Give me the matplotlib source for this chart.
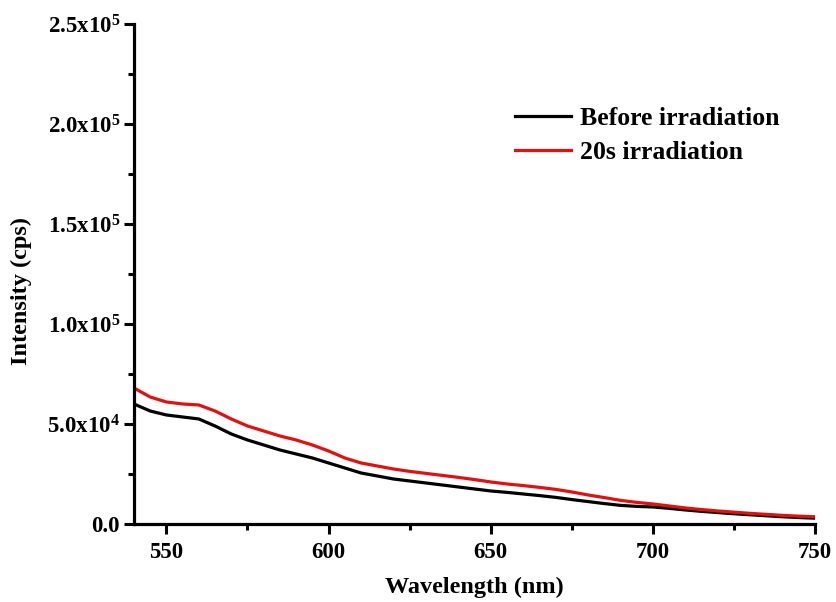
import matplotlib
matplotlib.use("Agg")
import matplotlib.pyplot as plt
from matplotlib.ticker import AutoMinorLocator

plt.rcParams['font.family'] = 'Liberation Serif'
plt.rcParams['font.weight'] = 'bold'
plt.rcParams['mathtext.fontset'] = 'custom'
plt.rcParams['mathtext.rm'] = 'Liberation Serif:bold'
plt.rcParams['mathtext.default'] = 'rm'

wavelength = [540, 545, 550, 555, 560, 565, 570, 575, 580, 585, 590, 595,
              600, 605, 610, 615, 620, 625, 630, 635, 640, 645, 650, 655,
              660, 665, 670, 675, 680, 685, 690, 695, 700, 705, 710, 715,
              720, 725, 730, 735, 740, 745, 750]

before = [60000, 56500, 54500, 53500, 52500, 49000, 45000, 42000, 39500, 37000,
          35000, 33000, 30500, 28000, 25500, 24000, 22500, 21500, 20500, 19500,
          18500, 17500, 16500, 15800, 15000, 14200, 13300, 12200, 11200, 10200,
          9300, 8800, 8500, 7800, 7000, 6300, 5700, 5100, 4600, 4100, 3600,
          3200, 2900]

irr20s = [68000, 63500, 61000, 60000, 59500, 56500, 52500, 49000, 46500, 44000,
          42000, 39500, 36500, 33000, 30500, 29000, 27500, 26300, 25300, 24300,
          23300, 22200, 21000, 20000, 19200, 18300, 17300, 16000, 14500, 13200,
          11800, 10800, 10000, 9000, 8000, 7200, 6500, 5900, 5300, 4800, 4300,
          3900, 3600]

ytick_vals = [0, 50000, 100000, 150000, 200000, 250000]
ytick_labels = ["0.0", "5.0x10$^4$", "1.0x10$^5$", "1.5x10$^5$",
                "2.0x10$^5$", "2.5x10$^5$"]
xtick_vals = [550, 600, 650, 700, 750]

fig = plt.figure(figsize=(8.37, 6.02), dpi=100)
ax = fig.add_axes([0.160, 0.1296, 0.814, 0.8306])

ax.plot(wavelength, before, color='black', lw=2.3, label='Before irradiation')
ax.plot(wavelength, irr20s, color='#e31010', lw=2.3, label='20s irradiation')

ax.set_xlim(540, 750)
ax.set_ylim(0, 250000)
ax.set_xticks(xtick_vals)
ax.set_yticks(ytick_vals)
ax.set_yticklabels(ytick_labels)
ax.xaxis.set_minor_locator(AutoMinorLocator(2))
ax.yaxis.set_minor_locator(AutoMinorLocator(2))

for s in ['top', 'right']:
    ax.spines[s].set_visible(False)
for s in ['left', 'bottom']:
    ax.spines[s].set_linewidth(2.3)

ax.tick_params(which='major', direction='out', length=7, width=2.2,
               labelsize=16.5)
ax.tick_params(axis='y', which='major', pad=3)
ax.tick_params(axis='x', which='major', pad=6)
ax.tick_params(which='minor', direction='out', length=4, width=2.2)

ax.set_xlabel('Wavelength (nm)', fontsize=17.5, fontweight='bold', labelpad=10)
ax.set_ylabel('Intensity (cps)', fontsize=17.5, fontweight='bold')
ax.yaxis.set_label_coords(-0.150, 0.466)

ax.legend(loc='upper left', bbox_to_anchor=(0.559, 0.833), frameon=False,
          borderpad=0, borderaxespad=0, handlelength=2.2,
          handletextpad=0.35, labelspacing=0.42,
          prop={'weight': 'bold', 'size': 18.5})

fig.savefig('out.png', dpi=100)
